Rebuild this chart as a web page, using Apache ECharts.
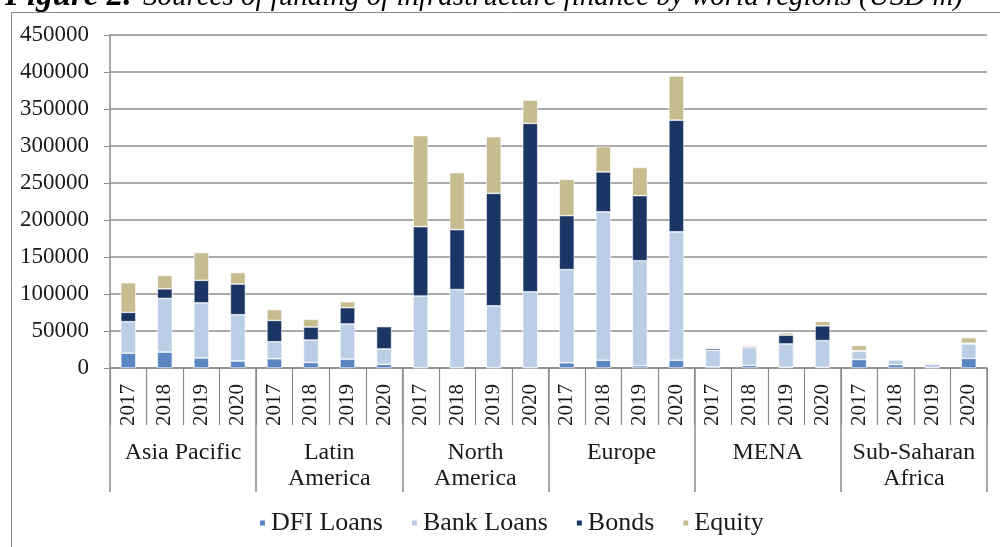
<!DOCTYPE html>
<html>
<head>
<meta charset="utf-8">
<script src="https://cdn.jsdelivr.net/npm/echarts@6/dist/echarts.min.js"></script>
<style>
html,body{margin:0;padding:0;background:#fff;}
#chart{width:1000px;height:547px;}
</style>
</head>
<body>
<div id="chart"></div>
<script>
const regions = ["Asia Pacific", "Latin\nAmerica", "North\nAmerica", "Europe", "MENA", "Sub-Saharan\nAfrica"];
const years = ["2017", "2018", "2019", "2020"];
const yTicks = [0, 50000, 100000, 150000, 200000, 250000, 300000, 350000, 400000, 450000];

const dfiLoans  = [20000, 21500, 13500, 9500,   12500, 7500, 12000, 5000,   500, 500, 500, 500,   7000, 10500, 3000, 10500,   1500, 3500, 1000, 1000,   11500, 4500, 500, 13000];
const bankLoans = [42600, 72500, 74500, 62500,  23000, 30300, 47500, 20700, 96800, 105500, 83500, 102500, 126000, 200500, 142000, 173500, 22500, 24000, 31500, 36000, 11500, 6500, 5000, 19500];
const bonds     = [12600, 13000, 30500, 41500,  28800, 17600, 22000, 30200, 93700, 81000, 152000, 227600, 73000, 54000, 88000, 151000, 2500, 1500, 12000, 20000, 500, 500, 500, 1000];
const equity    = [40100, 18000, 37500, 15500,  14600, 10400, 8100, 1100,  123000, 77000, 76600, 31400, 49000, 34000, 38000, 59600, 500, 1500, 3000, 6000, 7000, 500, 1500, 7500];

const seriesNames = ["DFI Loans", "Bank Loans", "Bonds", "Equity"];
const seriesData = [dfiLoans, bankLoans, bonds, equity];
const colors = ["#5b86c4", "#bccde6", "#1b3564", "#c6bc90"];

const yearCats = [];
regions.forEach(() => years.forEach(y => yearCats.push(y)));

const FONT = "Liberation Serif";
const chart = echarts.init(document.getElementById('chart'));
chart.setOption({
  animation: false,
  backgroundColor: '#fff',
  color: colors,
  graphic: [
    {
      type: 'rect', left: 9, top: 10, z: -1,
      shape: { width: 995, height: 545 },
      style: { fill: 'none', stroke: '#8a8a8a', lineWidth: 1 }
    },
    {
      type: 'text', left: 5, top: -20,
      style: { text: 'Figure 2.', fontFamily: FONT, fontSize: 33, fontStyle: 'italic', fontWeight: 'bold', fill: '#000' }
    },
    {
      type: 'text', left: 143, top: -17,
      style: { text: 'Sources of funding of infrastructure finance by world regions (USD m)', fontFamily: FONT, fontSize: 29, fontStyle: 'italic', fill: '#000' }
    }
  ],
  legend: {
    data: seriesNames,
    left: 258, top: 510, padding: 0,
    icon: 'rect', itemWidth: 7, itemHeight: 7, itemGap: 27,
    textStyle: { fontFamily: FONT, fontSize: 26, color: '#1a1a1a' }
  },
  grid: { left: 110, right: 13, top: 35, bottom: 179, containLabel: false },
  xAxis: [
    {
      type: 'category', data: yearCats, position: 'bottom',
      axisLine: { show: true, lineStyle: { color: '#8c8c8c', width: 1.5 } },
      axisTick: { show: true, interval: 0, length: 57, lineStyle: { color: '#8c8c8c', width: 1.2 } },
      axisLabel: { interval: 0, rotate: 90, margin: 16, fontFamily: FONT, fontSize: 21, color: '#1a1a1a' }
    },
    {
      type: 'category', data: regions, position: 'bottom', offset: 0,
      axisLine: { show: false },
      axisTick: { show: true, interval: 0, length: 124, lineStyle: { color: '#8c8c8c', width: 1.5 } },
      axisLabel: { interval: 0, margin: 72, fontFamily: FONT, fontSize: 24, lineHeight: 26, color: '#1a1a1a' }
    }
  ],
  yAxis: {
    type: 'value', min: yTicks[0], max: yTicks[yTicks.length - 1], interval: yTicks[1] - yTicks[0],
    axisLine: { show: true, lineStyle: { color: '#8c8c8c', width: 1.5 } },
    axisTick: { show: true, length: 6, lineStyle: { color: '#8c8c8c' } },
    splitLine: { show: true, lineStyle: { color: '#8f8f8f', width: 1.6 } },
    axisLabel: { margin: 21, fontFamily: FONT, fontSize: 23, color: '#1a1a1a', formatter: v => String(v) }
  },
  series: seriesNames.map((name, i) => ({
    name: name, type: 'bar', stack: 'total', xAxisIndex: 0,
    barWidth: 15,
    data: seriesData[i],
    itemStyle: { color: colors[i], borderColor: '#ffffff', borderWidth: 0.6 }
  }))
});
</script>
</body>
</html>
